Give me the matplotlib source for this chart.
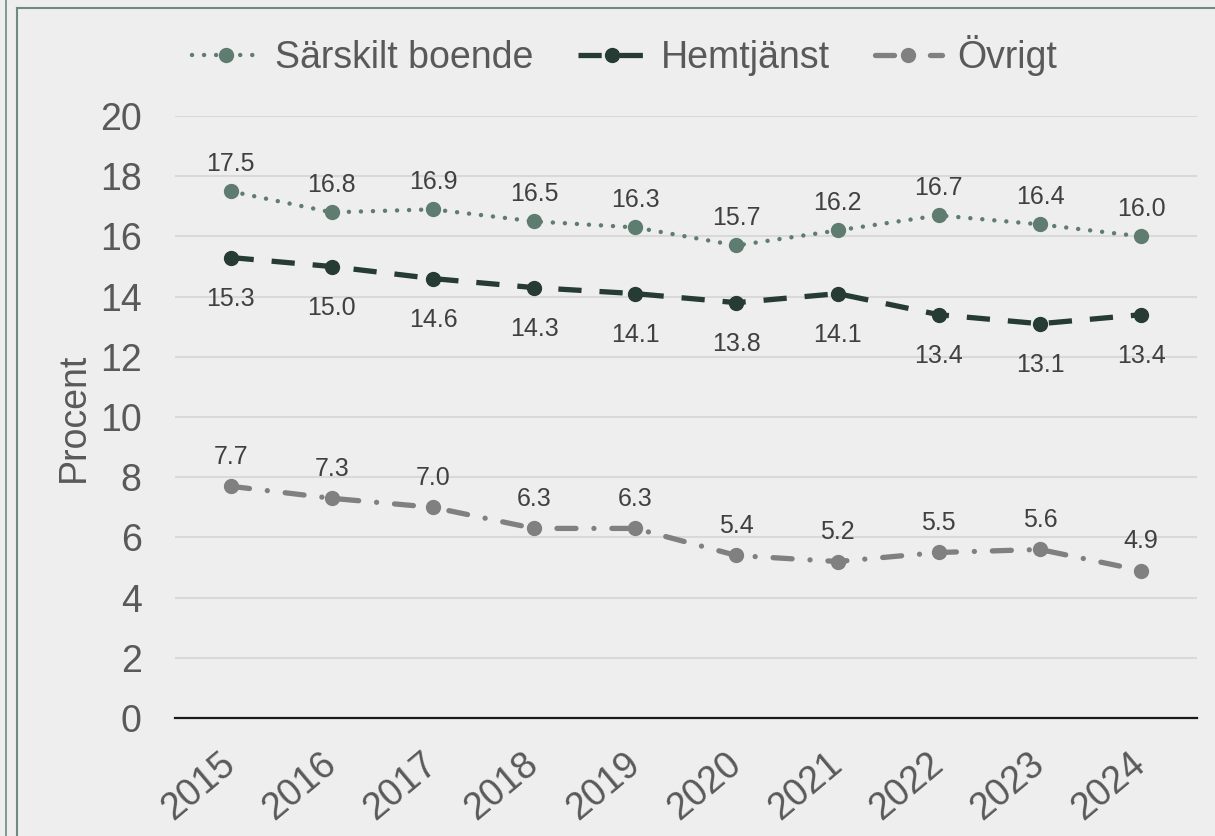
import matplotlib
matplotlib.use('Agg')
import matplotlib.pyplot as plt
from matplotlib.lines import Line2D

years = ['2015', '2016', '2017', '2018', '2019', '2020', '2021', '2022', '2023', '2024']
sarskilt = [17.5, 16.8, 16.9, 16.5, 16.3, 15.7, 16.2, 16.7, 16.4, 16.0]
hemtjanst = [15.3, 15.0, 14.6, 14.3, 14.1, 13.8, 14.1, 13.4, 13.1, 13.4]
ovrigt = [7.7, 7.3, 7.0, 6.3, 6.3, 5.4, 5.2, 5.5, 5.6, 4.9]

plt.rcParams['font.family'] = ['Liberation Sans', 'DejaVu Sans']

bg = '#eeeeee'
c_sar = '#5e7d70'
c_hem = '#263b33'
c_ovr = '#808080'
txt = '#595959'
lbl = '#404040'
big = 27

fig = plt.figure(figsize=(12.15, 8.36), dpi=100, facecolor=bg)
ax = fig.add_axes([0.144, 0.1411, 0.841, 0.7201], facecolor=bg)

x = list(range(len(years)))

ax.plot(x, sarskilt, color=c_sar, lw=3.2, linestyle=(0, (0.01, 2.7)),
        dash_capstyle='round', marker='o', ms=10, label='Särskilt boende', zorder=3)
ax.plot(x, hemtjanst, color=c_hem, lw=3.8, linestyle=(0, (4.4, 3.4)),
        dash_capstyle='butt', marker='o', ms=10, label='Hemtjänst', zorder=3)
ax.plot(x, ovrigt, color=c_ovr, lw=3.8, linestyle=(0, (3.6, 3.4, 0.01, 3.4)),
        dash_capstyle='round', marker='o', ms=10, label='Övrigt', zorder=3)

for i in x:
    ax.annotate(f'{sarskilt[i]:.1f}', (i, sarskilt[i]), xytext=(0, 20), textcoords='offset points',
                ha='center', va='center', fontsize=18, color=lbl)
    ax.annotate(f'{hemtjanst[i]:.1f}', (i, hemtjanst[i]), xytext=(0, -30), textcoords='offset points',
                ha='center', va='center', fontsize=18, color=lbl)
    ax.annotate(f'{ovrigt[i]:.1f}', (i, ovrigt[i]), xytext=(0, 21), textcoords='offset points',
                ha='center', va='center', fontsize=18, color=lbl)

ax.set_ylim(0, 20)
ax.set_xlim(-0.55, 9.55)
ax.set_yticks(range(0, 21, 2))
ax.set_xticks(x)
ax.set_xticklabels(years, rotation=40, ha='right', va='center', rotation_mode='anchor')
ax.tick_params(axis='both', length=0, labelsize=big, labelcolor=txt)
ax.tick_params(axis='x', pad=30)
ax.tick_params(axis='y', pad=24)
ax.grid(axis='y', color='#d9d9d9', lw=1.5)
ax.set_axisbelow(True)
for s in ['top', 'right', 'left']:
    ax.spines[s].set_visible(False)
ax.spines['bottom'].set_color('#1a1a1a')
ax.spines['bottom'].set_linewidth(1.6)
ax.spines['bottom'].set_zorder(2)

ax.set_ylabel('Procent', fontsize=big, color=txt)
ax.yaxis.set_label_coords(-0.081, 0.5)

leg = fig.legend(loc='center', bbox_to_anchor=(0.514, 0.934), ncol=3, frameon=False,
                 fontsize=big, handlelength=1.8, handletextpad=0.4, columnspacing=1.2,
                 labelcolor=txt)

# surrounding frame lines
fig.add_artist(Line2D([6 / 1215, 6 / 1215], [0, 1], color='#6f8a7e', lw=1.2))
fig.add_artist(Line2D([17 / 1215, 17 / 1215], [0, 1 - 8 / 836], color='#6f8a7e', lw=1.5))
fig.add_artist(Line2D([17 / 1215, 1], [1 - 8 / 836, 1 - 8 / 836], color='#6f8a7e', lw=1.5))

fig.savefig('out.png', dpi=100, facecolor=bg)
